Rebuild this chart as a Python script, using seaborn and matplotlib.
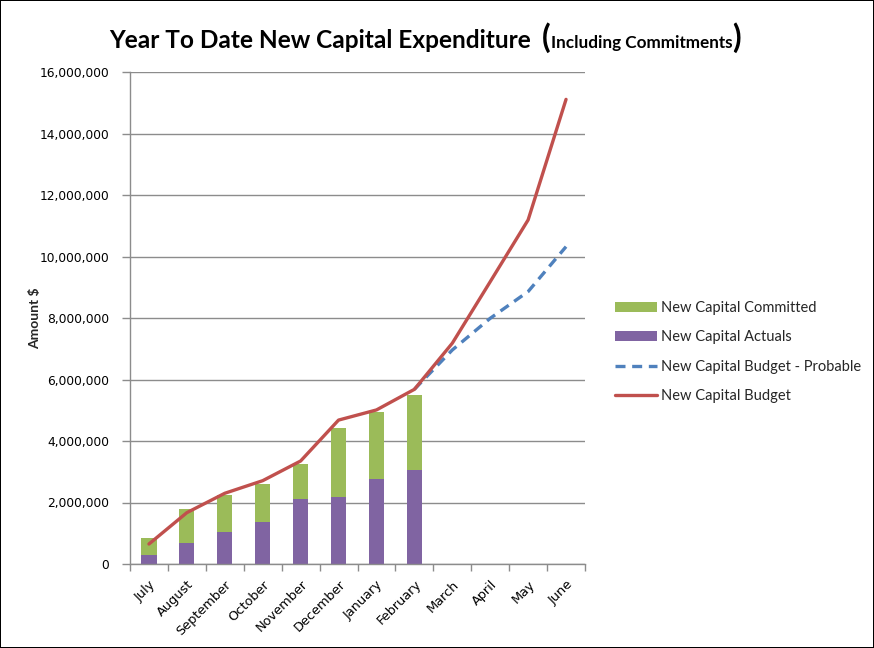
import numpy as np
import pandas as pd
import matplotlib
matplotlib.use("Agg")
import matplotlib.pyplot as plt
import seaborn as sns
from matplotlib.patches import Patch
from matplotlib.lines import Line2D
from matplotlib.offsetbox import TextArea, HPacker, AnchoredOffsetbox
from matplotlib.ticker import FuncFormatter, FixedLocator

months = ["July", "August", "September", "October", "November", "December",
          "January", "February", "March", "April", "May", "June"]
# stacked bar tops (actuals + committed) and actuals, first 8 months
bar_total = [850000, 1790000, 2230000, 2590000, 3250000, 4430000, 4950000, 5510000]
actuals = [300000, 690000, 1050000, 1380000, 2120000, 2190000, 2780000, 3060000]
budget = [650000, 1670000, 2300000, 2710000, 3350000, 4680000, 5010000, 5680000,
          7180000, 9180000, 11190000, 15110000]
probable_months = ["February", "March", "April", "May", "June"]
probable = [5680000, 6960000, 7990000, 8860000, 10320000]

sns.set_theme(style="white")
plt.rcParams['font.family'] = ['DejaVu Sans']

GREEN = "#9BBB59"
PURPLE = "#8064A2"
RED = "#C0504D"
BLUE = "#4F81BD"
GRID = "#8C8C8C"

fig = plt.figure(figsize=(8.74, 6.48), dpi=100)
fig.patch.set_facecolor("white")
fig.patch.set_edgecolor("black")
fig.patch.set_linewidth(1.2)
ax = fig.add_axes([130/874, 84/648, 455/874, 492/648])

n = len(bar_total)
bars_df = pd.DataFrame({
    "month": months,
    "total": bar_total + [np.nan] * (12 - n),
    "actuals": actuals + [np.nan] * (12 - n),
})
sns.barplot(data=bars_df, x="month", y="total", order=months, color=GREEN,
            width=0.4, saturation=1, ax=ax, zorder=2, linewidth=0, edgecolor="none")
sns.barplot(data=bars_df, x="month", y="actuals", order=months, color=PURPLE,
            width=0.4, saturation=1, ax=ax, zorder=2, linewidth=0, edgecolor="none")

pos = {m: i for i, m in enumerate(months)}
bud_df = pd.DataFrame({"x": [pos[m] for m in months], "y": budget})
prob_df = pd.DataFrame({"x": [pos[m] for m in probable_months], "y": probable})
sns.lineplot(data=prob_df, x="x", y="y", color=BLUE, linewidth=2.4,
             linestyle=(0, (3, 2)), ax=ax, zorder=3)
sns.lineplot(data=bud_df, x="x", y="y", color=RED, linewidth=2.4, ax=ax, zorder=4)

ax.set_xlim(-0.5, 11.5)
ax.set_ylim(0, 16000000)
ax.set_yticks(np.arange(0, 16000001, 2000000))
ax.yaxis.set_major_formatter(FuncFormatter(lambda v, p: f"{int(v):,}"))
ax.yaxis.grid(True, color=GRID, linewidth=1.0, zorder=0)
ax.set_axisbelow(True)
ax.xaxis.grid(False)

ax.set_xticks(range(12))
ax.set_xticklabels(months, rotation=45, ha="right", rotation_mode="anchor",
                   fontsize=9.3, color="black")
ax.xaxis.set_minor_locator(FixedLocator(np.arange(-0.5, 12, 1)))
ax.tick_params(axis="x", which="major", length=0, pad=10)
ax.tick_params(axis="x", which="minor", length=5, color=GRID, width=1, direction="out", bottom=True)
ax.tick_params(axis="y", which="major", length=6, color=GRID, width=1, direction="out",
               left=True, labelsize=8.8, labelcolor="black", pad=9)

for s in ["top", "right"]:
    ax.spines[s].set_visible(False)
for s in ["left", "bottom"]:
    ax.spines[s].set_color(GRID)
    ax.spines[s].set_linewidth(1.0)

ax.set_xlabel("")
ax.set_ylabel("Amount $", fontsize=10, fontweight="bold", family="Lato", labelpad=-1)

handles = [Patch(facecolor=GREEN, edgecolor="none"),
           Patch(facecolor=PURPLE, edgecolor="none"),
           Line2D([0], [0], color=BLUE, linewidth=2.4, linestyle=(0, (3, 2))),
           Line2D([0], [0], color=RED, linewidth=2.4)]
labels = ["New Capital Committed", "New Capital Actuals",
          "New Capital Budget - Probable", "New Capital Budget"]
leg = fig.legend(handles, labels, loc="center left", bbox_to_anchor=(602/874, 1 - 352/648),
                 frameon=False, labelspacing=1.05, handlelength=2.85,
                 handleheight=0.7, handletextpad=0.3, prop={"family": "Lato", "size": 10.5})

t1 = TextArea("Year To Date New Capital Expenditure  ",
              textprops=dict(fontsize=17.6, fontweight="bold", family="Lato", color="black"))
t2 = TextArea("(", textprops=dict(fontsize=23, fontweight="bold", family="Lato", color="black"))
t3 = TextArea("Including Commitments",
              textprops=dict(fontsize=12.3, fontweight="bold", family="Lato", color="black"))
t4 = TextArea(")", textprops=dict(fontsize=23, fontweight="bold", family="Lato", color="black"))
box = HPacker(children=[t1, t2, t3, t4], align="baseline", pad=0, sep=0)
anch = AnchoredOffsetbox(loc="center", child=box, frameon=False,
                         bbox_to_anchor=(425/874, 1 - 38/648), bbox_transform=fig.transFigure,
                         borderpad=0, pad=0)
fig.add_artist(anch)

fig.savefig("out.png", dpi=100, facecolor="white", edgecolor="black")
